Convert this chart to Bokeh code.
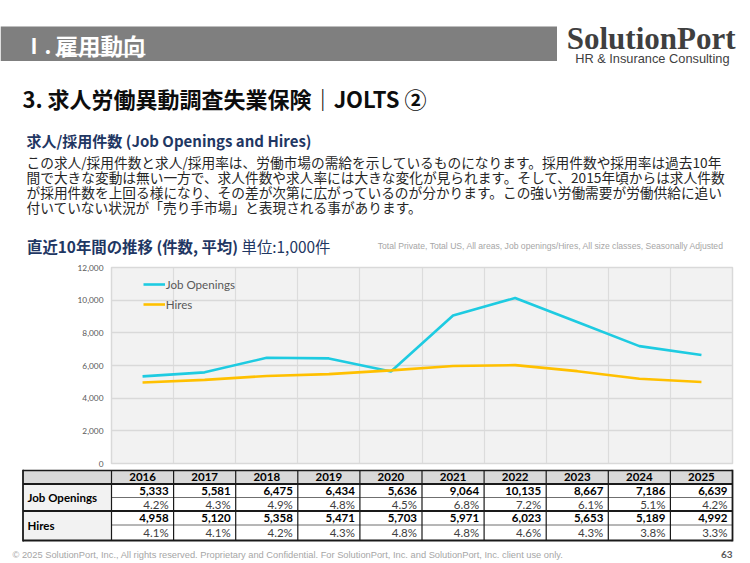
from bokeh.plotting import figure
from bokeh.layouts import column
from bokeh.models import (Range1d, FixedTicker, NumeralTickFormatter, Legend, LegendItem)
from bokeh.core.properties import value
from bokeh.embed import file_html
from bokeh.resources import INLINE

# ---------------- data ----------------
years = [2016, 2017, 2018, 2019, 2020, 2021, 2022, 2023, 2024, 2025]
job_openings = [5333, 5581, 6475, 6434, 5636, 9064, 10135, 8667, 7186, 6639]
hires = [4958, 5120, 5358, 5471, 5703, 5971, 6023, 5653, 5189, 4992]
job_openings_rate = [4.2, 4.3, 4.9, 4.8, 4.5, 6.8, 7.2, 6.1, 5.1, 4.2]
hires_rate = [4.1, 4.1, 4.2, 4.3, 4.8, 4.8, 4.6, 4.3, 3.8, 3.3]
y_ticks = [0, 2000, 4000, 6000, 8000, 10000, 12000]
series_names = ["Job Openings", "Hires"]

section_label = "Ⅰ."
section_title = "雇用動向"
brand = "SolutionPort"
brand_sub = "HR & Insurance Consulting"
title = "3. 求人労働異動調査失業保険｜JOLTS ②"
subheading = "求人/採用件数 (Job Openings and Hires)"
paragraph = [
    "この求人/採用件数と求人/採用率は、労働市場の需給を示しているものになります。採用件数や採用率は過去10年",
    "間で大きな変動は無い一方で、求人件数や求人率には大きな変化が見られます。そして、2015年頃からは求人件数",
    "が採用件数を上回る様になり、その差が次第に広がっているのが分かります。この強い労働需要が労働供給に追い",
    "付いていない状況が「売り手市場」と表現される事があります。",
]
chart_heading = "直近10年間の推移 (件数, 平均)"
chart_unit = "単位:1,000件"
chart_note = "Total Private, Total US, All areas, Job openings/Hires, All size classes, Seasonally Adjusted"
footer = ("© 2025 SolutionPort, Inc., All rights reserved. Proprietary and Confidential. "
          "For SolutionPort, Inc. and SolutionPort, Inc. client use only.")
page_no = "63"

# ---------------- geometry (page pixels) ----------------
W = 750
A_H = 257                 # header block
FT, FB = 267, 463         # chart frame top / bottom
FL, FR = 111, 732         # chart frame left / right
B_PAD = 6                 # room under the frame for the "0" tick label
B_H = FB + B_PAD - A_H
C_TOP = FB + B_PAD
C_H = 563 - C_TOP
COLW = (FR - FL) / len(years)

JP = "Noto Sans CJK JP"
LAT = "Lato"
NARROW = "Liberation Sans Narrow, Liberation Sans"
NAVY = "#1f3763"
CYAN = "#1ecbe1"
GOLD = "#ffc000"


def plain_fig(h, y_top):
    f = figure(width=W, height=h, output_backend="svg", toolbar_location=None,
               x_range=Range1d(0, W), y_range=Range1d(y_top + h, y_top),
               x_axis_location=None, y_axis_location=None, min_border=0, frame_align=False,
               background_fill_color="white", border_fill_color="white", outline_line_color=None)
    f.grid.visible = False
    return f


def txt(f, x, y, s, size, color="#000000", bold=False, font=JP, align="left", baseline="middle", xr="default"):
    f.text(x=[x], y=[y], text=[s], x_range_name=xr,
           text_font=value(font), text_font_size=value(f"{size}px"), text_color=color,
           text_font_style=value("bold" if bold else "normal"),
           text_align=value(align), text_baseline=value(baseline))


# ---------------- A: header ----------------
a = plain_fig(A_H, 0)
a.quad(left=[0], right=[556.5], top=[26], bottom=[60.5], fill_color="#7f7f7f", line_color=None)
txt(a, 23, 44, section_label, 21, "white", True)
txt(a, 55, 44, section_title, 22.5, "white", True)
a.segment(x0=[55], y0=[54], x1=[145], y1=[54], line_color="white", line_width=1.5)
txt(a, 735, 37.5, brand, 31, "#3f3f3f", True, "Liberation Serif", "right")
txt(a, 729, 58, brand_sub, 12.8, "#3f3f3f", False, "Liberation Sans", "right")
txt(a, 22, 97, title, 22, "#0d0d0d", True)
txt(a, 26, 140, subheading, 15, NAVY, True)
for i, line in enumerate(paragraph):
    txt(a, 26, 161 + 15 * i, line, 13.7, "#262626")
txt(a, 26.5, 245, chart_heading, 15.4, NAVY, True)
txt(a, 241, 245, chart_unit, 15.4, NAVY)
txt(a, 724, 245, chart_note, 8.6, "#a6a6a6", False, NARROW, "right")

# ---------------- B: chart ----------------
b = figure(width=W, height=B_H, output_backend="svg", toolbar_location=None,
           x_range=Range1d(years[0] - 0.5, years[-1] + 0.5), y_range=Range1d(0, 12000),
           x_axis_location=None, frame_align=False,
           min_border_left=FL, min_border_right=W - FR, min_border_top=FT - A_H, min_border_bottom=B_PAD,
           background_fill_color="#f2f2f2", border_fill_color="white",
           outline_line_color="#d9d9d9", outline_line_width=1.5)
b.yaxis.ticker = FixedTicker(ticks=y_ticks)
b.yaxis.formatter = NumeralTickFormatter(format="0,0")
b.yaxis.axis_line_color = None
b.yaxis.major_tick_line_color = None
b.yaxis.minor_tick_line_color = None
b.yaxis.major_tick_out = 0
b.yaxis.major_tick_in = 0
b.yaxis.major_label_standoff = 8
b.yaxis.major_label_text_font = LAT
b.yaxis.major_label_text_font_size = "8.3px"
b.yaxis.major_label_text_color = "#595959"
b.ygrid.ticker = FixedTicker(ticks=y_ticks)
b.ygrid.grid_line_color = "#d9d9d9"
b.ygrid.grid_line_width = 1.5
b.xgrid.ticker = FixedTicker(ticks=[y - 0.5 for y in years] + [years[-1] + 0.5])
b.xgrid.grid_line_color = "#dcdcdc"
b.xgrid.grid_line_width = 1.2

r1 = b.line(years, job_openings, line_color=CYAN, line_width=2.6)
r2 = b.line(years, hires, line_color=GOLD, line_width=2.6)
legend = Legend(items=[LegendItem(label=series_names[0], renderers=[r1]),
                       LegendItem(label=series_names[1], renderers=[r2])],
                location=(31.7, (FB - FT) - 47), padding=0, margin=0, spacing=0,
                background_fill_alpha=0, border_line_color=None,
                glyph_width=22, glyph_height=20, label_height=20, label_standoff=1,
                label_text_font=LAT, label_text_font_size="11.6px", label_text_color="#595959")
b.add_layout(legend)

# ---------------- C: table + footer ----------------
c = plain_fig(C_H, C_TOP)
c.extra_x_ranges = {"yr": Range1d(years[0] - 0.5 - FL / COLW, years[-1] + 0.5 + (W - FR) / COLW)}
TL = 22.5
ry = [C_TOP + 0.9, 483.5, 497, 510.5, 524.5, 540]
c.quad(left=[TL], right=[FR], top=[ry[0]], bottom=[ry[1]], fill_color="#d9d9d9", line_color=None)
c.quad(left=[TL], right=[FL], top=[ry[1]], bottom=[ry[5]], fill_color="#f2f2f2", line_color=None)

c.segment(x0=[FL, FL], y0=[ry[2], ry[4]], x1=[FR, FR], y1=[ry[2], ry[4]], line_color="#6f6f6f", line_width=1)
c.segment(x0=[TL] * 4, y0=[ry[0], ry[1], ry[3], ry[5]], x1=[FR] * 4, y1=[ry[0], ry[1], ry[3], ry[5]],
          line_color="#1a1a1a", line_width=1.8)
inner = [y - 0.5 for y in years[1:]]
c.segment(x0=inner, y0=[ry[0]] * len(inner), x1=inner, y1=[ry[5]] * len(inner), x_range_name="yr",
          line_color="#1a1a1a", line_width=1.2)
c.segment(x0=[FL], y0=[ry[0]], x1=[FL], y1=[ry[5]], line_color="#1a1a1a", line_width=1.2)
c.segment(x0=[TL, FR], y0=[ry[0] - 0.9] * 2, x1=[TL, FR], y1=[ry[5] + 0.9] * 2,
          line_color="#1a1a1a", line_width=1.8)


def rowtext(texts, yc, bold, color, align="right"):
    xs = [y + 0.5 for y in years] if align == "right" else years
    c.text(x=xs, y=[yc] * len(years), text=texts, x_range_name="yr",
           x_offset=-5 if align == "right" else 0,
           text_font=value(LAT), text_font_size=value("11.5px"),
           text_font_style=value("bold" if bold else "normal"),
           text_color=color, text_align=value(align), text_baseline=value("middle"))


rowtext([str(y) for y in years], (ry[0] + ry[1]) / 2, True, "#000000", "center")
rowtext([f"{v:,}" for v in job_openings], (ry[1] + ry[2]) / 2, True, "#000000")
rowtext([f"{v:.1f}%" for v in job_openings_rate], (ry[2] + ry[3]) / 2, False, "#404040")
rowtext([f"{v:,}" for v in hires], (ry[3] + ry[4]) / 2, True, "#000000")
rowtext([f"{v:.1f}%" for v in hires_rate], (ry[4] + ry[5]) / 2, False, "#404040")
txt(c, 27, (ry[1] + ry[3]) / 2, series_names[0], 11.5, "#000000", True, LAT)
txt(c, 27, (ry[3] + ry[5]) / 2, series_names[1], 11.5, "#000000", True, LAT)

txt(c, 12, 554, footer, 9.3, "#a6a6a6", False, NARROW)
txt(c, 732, 554, page_no, 10, "#595959", True, LAT, "right")

root = column(a, b, c, spacing=0)
open("out.html", "w").write(file_html(root, INLINE))
